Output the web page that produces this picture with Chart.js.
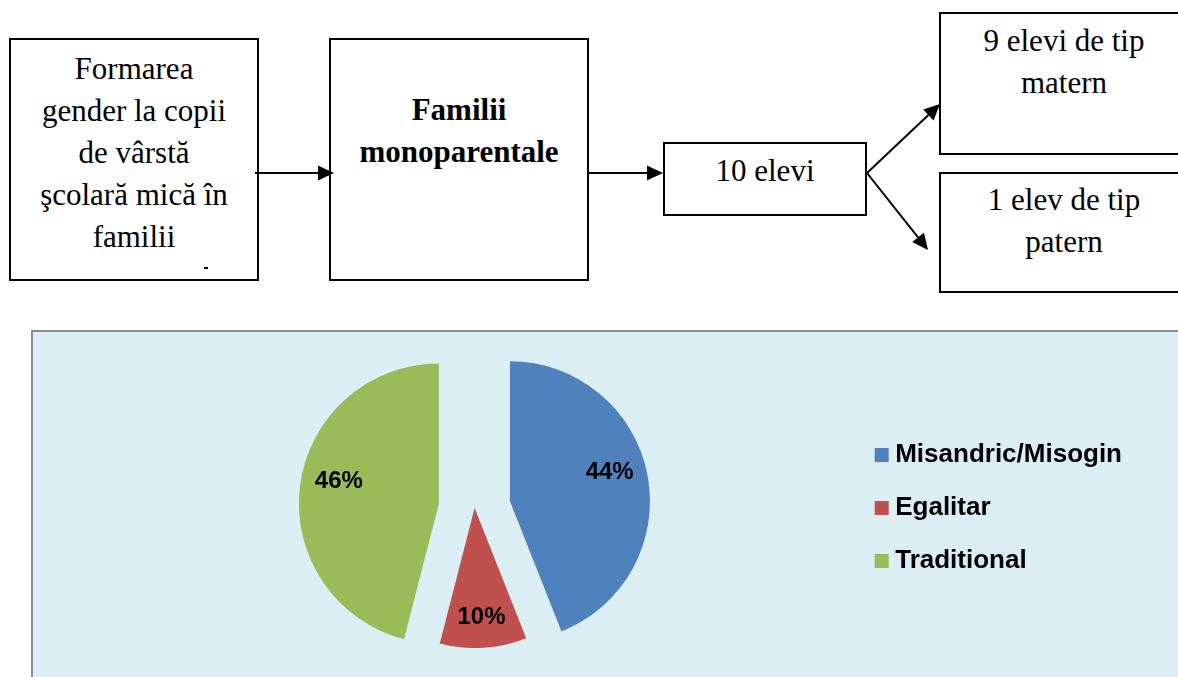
<!DOCTYPE html>
<html>
<head>
<meta charset="utf-8">
<script src="https://cdn.jsdelivr.net/npm/chart.js@4.4.1/dist/chart.umd.min.js"></script>
<style>
  body { margin: 0; width: 1178px; height: 677px; overflow: hidden; background: #fff; position: relative; }
  .box { position: absolute; box-sizing: border-box; border: 2px solid #000; background: #fff; }
  .txt { position: absolute; text-align: center; white-space: nowrap; color: #000;
         font-family: "Liberation Serif", "Times New Roman", serif; font-size: 31px; line-height: 42px; }
  #panel { position: absolute; left: 31px; top: 330px; width: 1170px; height: 370px; box-sizing: border-box;
           border: 2px solid #8c8c8c; background: #dbeef4; }
  #pie { position: absolute; left: 33px; top: 333px; }
  #arrows { position: absolute; left: 0; top: 0; }
</style>
</head>
<body>
<div class="box" style="left:9px;top:38px;width:250px;height:243px"></div>
<div class="box" style="left:329px;top:38px;width:260px;height:243px"></div>
<div class="box" style="left:663px;top:142px;width:204px;height:74px"></div>
<div class="box" style="left:939px;top:12px;width:260px;height:143px"></div>
<div class="box" style="left:939px;top:172px;width:260px;height:121px"></div>

<div class="txt" style="left:9px;top:48px;width:250px">Formarea<br>gender la copii<br>de vârstă<br>şcolară mică în<br>familii</div>
<div style="position:absolute;left:204px;top:267px;width:4px;height:2px;background:#000"></div>
<div class="txt" style="left:329px;top:89px;width:260px;font-weight:bold">Familii<br>monoparentale</div>
<div class="txt" style="left:663px;top:150px;width:204px">10 elevi</div>
<div class="txt" style="left:939px;top:20px;width:250px">9 elevi de tip<br>matern</div>
<div class="txt" style="left:939px;top:179px;width:250px">1 elev de tip<br>patern</div>

<svg id="arrows" width="1178" height="320"></svg>

<div id="panel"></div>
<canvas id="pie" width="1145" height="344"></canvas>

<script>
// pie data
const categories = ["Misandric/Misogin", "Egalitar", "Traditional"];
const values = [44, 10, 46];
const colors = ["#4f81bd", "#c0504d", "#9bbb59"];
const explode = [36, 0, 36];

// arrows of the diagram
const arrowList = [
  [255, 173, 334, 173],
  [589, 173, 663, 173],
  [867, 173, 940, 104],
  [867, 173, 928, 250],
];
const svg = document.getElementById("arrows");
arrowList.forEach(function (a) {
  const [x1, y1, x2, y2] = a;
  const len = Math.hypot(x2 - x1, y2 - y1);
  const ux = (x2 - x1) / len, uy = (y2 - y1) / len;
  const hl = 16, hw = 7.5;
  const bx = x2 - ux * hl, by = y2 - uy * hl;
  const line = document.createElementNS("http://www.w3.org/2000/svg", "line");
  line.setAttribute("x1", x1); line.setAttribute("y1", y1);
  line.setAttribute("x2", bx); line.setAttribute("y2", by);
  line.setAttribute("stroke", "#000"); line.setAttribute("stroke-width", "2");
  svg.appendChild(line);
  const head = document.createElementNS("http://www.w3.org/2000/svg", "polygon");
  head.setAttribute("points",
    x2 + "," + y2 + " " + (bx - uy * hw) + "," + (by + ux * hw) + " " + (bx + uy * hw) + "," + (by - ux * hw));
  head.setAttribute("fill", "#000");
  svg.appendChild(head);
});

const total = values.reduce((s, v) => s + v, 0);

// move slices out along their middle angle, keeping the radius
const explodePlugin = {
  id: "explode",
  afterDatasetUpdate(chart, args) {
    args.meta.data.forEach((arc, i) => {
      const d = explode[i] || 0;
      const mid = (arc.startAngle + arc.endAngle) / 2;
      arc.x += Math.cos(mid) * d;
      arc.y += Math.sin(mid) * d;
    });
  },
};

const labelPlugin = {
  id: "pctLabels",
  afterDatasetsDraw(chart) {
    const meta = chart.getDatasetMeta(0);
    const ctx = chart.ctx;
    ctx.save();
    ctx.font = 'bold 24px "Liberation Sans", Arial, sans-serif';
    ctx.fillStyle = "#000";
    ctx.textAlign = "center";
    ctx.textBaseline = "middle";
    meta.data.forEach((arc, i) => {
      // label a bit above the middle angle for the big slices, like the original
      const mid = (arc.startAngle + arc.endAngle) / 2;
      const r = arc.outerRadius * (0.71 + 0.08 * Math.abs(Math.sin(mid)));
      const x = arc.x + Math.cos(mid) * r;
      const y = arc.y + Math.sin(mid) * r - Math.abs(Math.cos(mid)) * 10;
      const txt = Math.round((values[i] / total) * 100) + "%";
      ctx.fillText(txt, x, y);
    });
    ctx.restore();
  },
};

new Chart(document.getElementById("pie"), {
  type: "pie",
  data: {
    labels: categories,
    datasets: [
      {
        data: values,
        backgroundColor: colors,
        borderWidth: 0,
        radius: 140,
      },
    ],
  },
  options: {
    responsive: false,
    animation: false,
    events: [],
    radius: 140,
    layout: { padding: { left: 62, right: 46, top: 6, bottom: 0 } },
    plugins: {
      tooltip: { enabled: false },
      legend: {
        position: "right",
        align: "center",
        labels: {
          usePointStyle: true,
          pointStyle: "rect",
          boxWidth: 1,
          boxHeight: 14,
          padding: 27,
          color: "#000",
          font: { family: '"Liberation Sans", Arial, sans-serif', size: 26, weight: "bold" },
        },
      },
    },
  },
  plugins: [explodePlugin, labelPlugin],
});
</script>
</body>
</html>
